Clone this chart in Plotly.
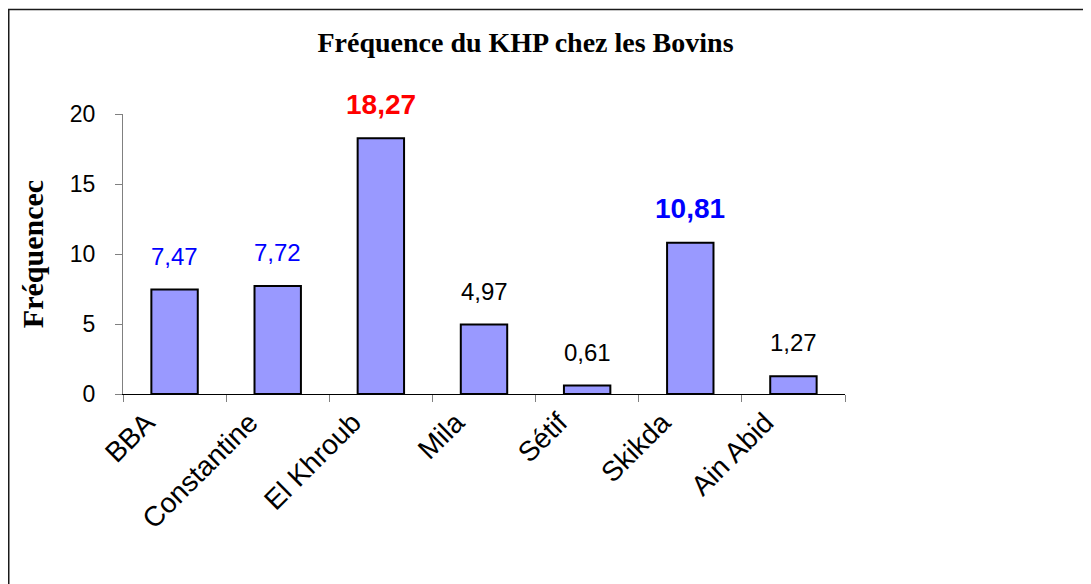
import plotly.graph_objects as go

categories = ["BBA", "Constantine", "El Khroub", "Mila", "Sétif", "Skikda", "Ain Abid"]
values = [7.47, 7.72, 18.27, 4.97, 0.61, 10.81, 1.27]
value_labels = ["7,47", "7,72", "18,27", "4,97", "0,61", "10,81", "1,27"]
label_colors = ["#0000FF", "#0000FF", "#FF0000", "#000000", "#000000", "#0000FF", "#000000"]
label_bold = [False, False, True, False, False, True, False]
y_ticks = [0, 5, 10, 15, 20]

W, H = 1091, 584
# plot area in figure pixels (page is offset by the 8px body margin)
L, R, T, B = 115, 837, 105.5, 386

fig = go.Figure()
fig.add_trace(go.Bar(
    x=categories, y=values, width=0.45,
    marker=dict(color="#9999FF", line=dict(color="#000000", width=2)),
    hoverinfo="x+y",
))

for c, v, t, col, b in zip(categories, values, value_labels, label_colors, label_bold):
    size = 28 if b else 24
    fig.add_annotation(
        x=c, y=v, text=f"<b>{t}</b>" if b else t, showarrow=False,
        yanchor="bottom", yshift=25 - 0.3 * size,
        font=dict(family="Liberation Sans, Arial", size=size, color=col),
    )

def px_x(p):
    return (p - L) / (R - L)

def px_y(p):
    return (B - p) / (B - T)

fig.add_shape(type="rect", xref="paper", yref="paper",
              x0=px_x(0.75), x1=px_x(1100), y0=px_y(600), y1=px_y(0.75),
              line=dict(color="#1a1a1a", width=1.5), layer="below")

fig.update_layout(
    width=W, height=H,
    margin=dict(l=L, r=W - R, t=T, b=H - B, pad=0),
    paper_bgcolor="white", plot_bgcolor="white",
    showlegend=False,
    title=dict(text="<b>Fréquence du KHP chez les Bovins</b>", x=517.5 / W,
               xanchor="center", y=1 - 34 / H, yanchor="middle",
               font=dict(family="Liberation Serif, Times New Roman", size=28, color="#000000")),
    xaxis=dict(
        type="category", range=[-0.5, 6.5],
        showline=True, linecolor="#000000", linewidth=1,
        ticks="outside", ticklen=7, tickcolor="#808080",
        tickson="boundaries",
        tickangle=-45, ticklabelstandoff=0, ticklabelshift=-28,
        tickfont=dict(family="Liberation Sans, Arial", size=28, color="#000000"),
        showgrid=False, zeroline=False,
    ),
    yaxis=dict(
        range=[0, 20], tickvals=y_ticks, ticktext=[str(v) for v in y_ticks],
        showline=True, linecolor="#808080", linewidth=1,
        ticks="outside", ticklen=7, tickcolor="#808080",
        ticklabelstandoff=15,
        tickfont=dict(family="Liberation Sans, Arial", size=23, color="#000000"),
        showgrid=False, zeroline=False,
        title=dict(text="<b>Fréquencec</b>", standoff=17,
                   font=dict(family="Liberation Serif, Times New Roman", size=30, color="#000000")),
    ),
)

fig.write_html("out.html")
